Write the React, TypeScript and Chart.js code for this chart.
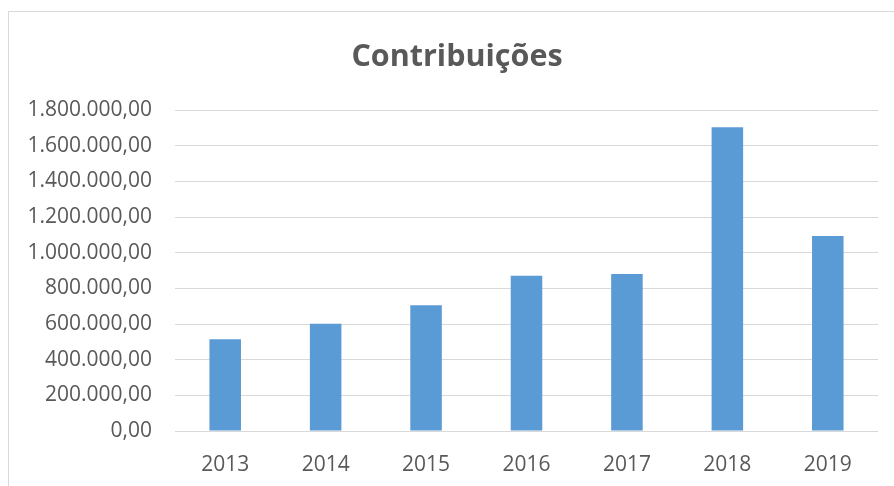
import React, { useEffect, useRef } from "react";
import { Chart, registerables } from "chart.js";

Chart.register(...registerables);

const categories = ["2013", "2014", "2015", "2016", "2017", "2018", "2019"];
const contribuicoes = [514000, 602000, 705000, 871000, 880000, 1703000, 1094000];
const yTicks = [0, 200000, 400000, 600000, 800000, 1000000, 1200000, 1400000, 1600000, 1800000];

function fmt(v: number): string {
  const s = Math.round(v).toString().replace(/\B(?=(\d{3})+(?!\d))/g, ".");
  return s + ",00";
}

// nudges the title block so it is centred like the original (Excel centres over the whole chart box)
const titleOffset = {
  id: "titleOffset",
  afterLayout(chart: any) {
    const t = chart.titleBlock;
    if (t) {
      t.left += 27;
      t.width = t.right - t.left;
    }
  },
};

export default function App() {
  const ref = useRef<HTMLCanvasElement | null>(null);
  useEffect(() => {
    if (!ref.current) return;
    const chart = new Chart(ref.current, {
      type: "bar",
      data: {
        labels: categories,
        datasets: [
          {
            label: "Contribuições",
            data: contribuicoes,
            backgroundColor: "#5B9BD5",
            barPercentage: 0.314,
            categoryPercentage: 1,
          },
        ],
      },
      options: {
        animation: false,
        responsive: false,
        maintainAspectRatio: false,
        layout: { padding: { left: 0, right: 16, top: 0, bottom: 0 } },
        plugins: {
          legend: { display: false },
          tooltip: { enabled: false },
          title: {
            display: true,
            text: "Contribuições",
            color: "#595959",
            font: { family: "'Open Sans'", size: 30.5, weight: "bold" },
            padding: { top: 27, bottom: 34.4 },
          },
        },
        scales: {
          x: {
            grid: { display: false },
            border: { display: false },
            ticks: {
              color: "#595959",
              font: { family: "'Open Sans'", size: 21 },
              padding: 13,
            },
            afterFit: (s: any) => {
              s.height = 55;
            },
          },
          y: {
            min: 0,
            max: 1800000,
            afterBuildTicks: (s: any) => {
              s.ticks = yTicks.map((v) => ({ value: v }));
            },
            grid: { color: "#d9d9d9", lineWidth: 1, drawTicks: false },
            border: { display: false },
            ticks: {
              color: "#595959",
              font: { family: "'Open Sans'", size: 21 },
              padding: 23,
              callback: (v: any) => fmt(Number(v)),
            },
            afterFit: (s: any) => {
              s.width = 166;
            },
          },
        },
      },
      plugins: [titleOffset],
    });
    return () => chart.destroy();
  }, []);
  return (
    <div
      style={{
        position: "fixed",
        left: 8,
        top: 11,
        width: 900,
        height: 490,
        border: "1px solid #d9d9d9",
        background: "#fff",
        boxSizing: "border-box",
      }}
    >
      <canvas
        ref={ref}
        width={885}
        height={474}
        style={{ display: "block", width: 885, height: 474 }}
      />
    </div>
  );
}
